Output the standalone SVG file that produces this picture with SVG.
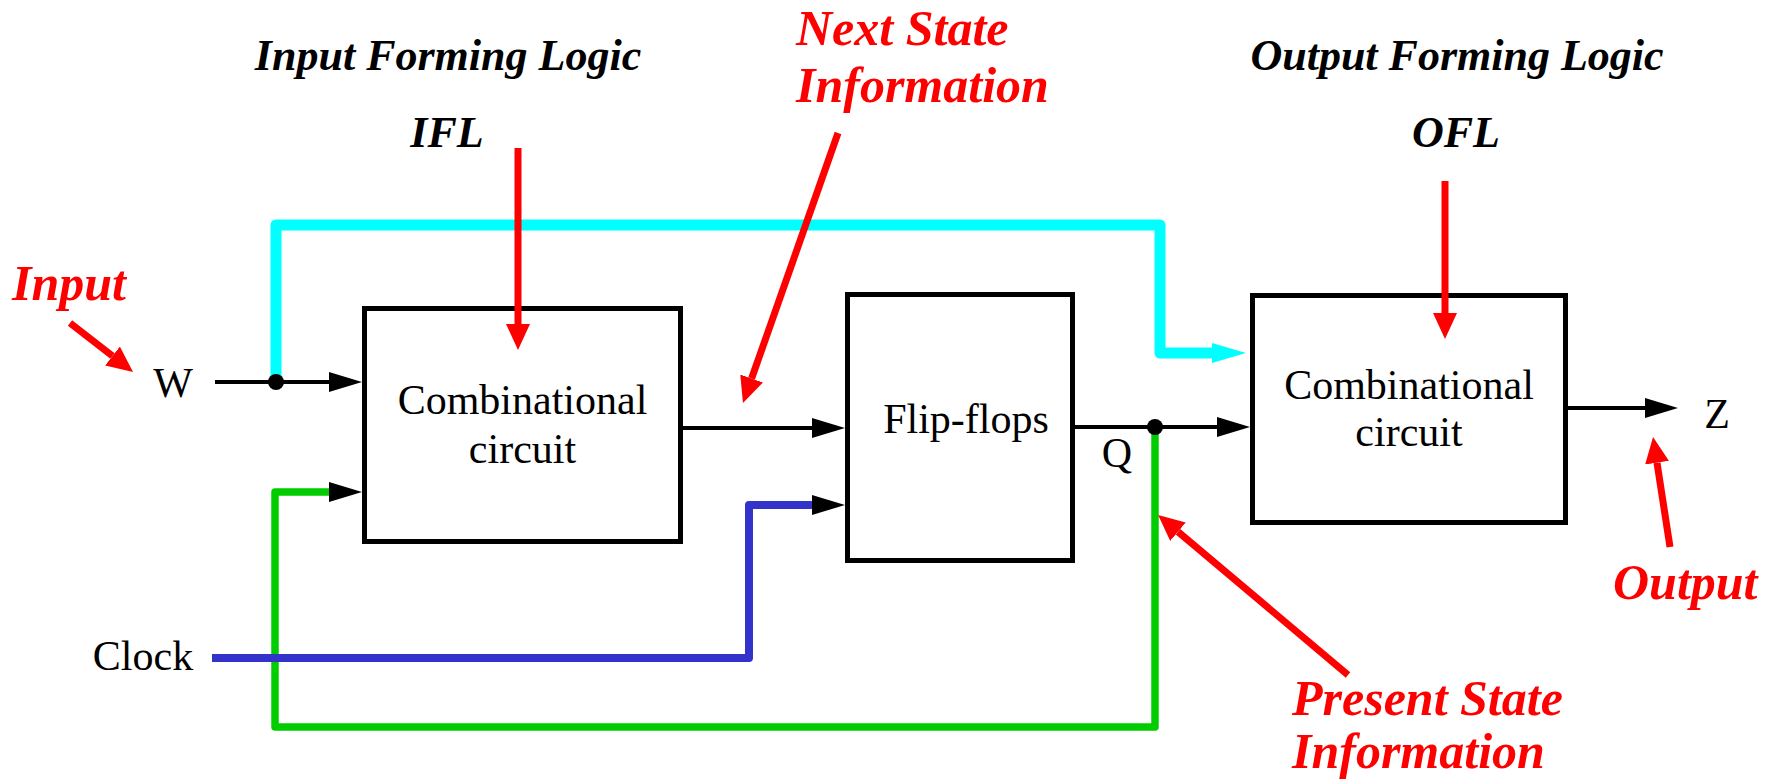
<svg xmlns="http://www.w3.org/2000/svg" width="1779" height="779" viewBox="0 0 1779 779">
  <style>
    .box { fill: #fff; stroke: #000; stroke-width: 5; }
    .txt { font-family: "Liberation Serif", "Times New Roman", serif; font-size: 42px; fill: #000; }
    .lbl { font-family: "Liberation Serif", "Times New Roman", serif; font-size: 44px; font-weight: bold; font-style: italic; fill: #000; }
    .rlbl { font-family: "Liberation Serif", "Times New Roman", serif; font-size: 50px; font-weight: bold; font-style: italic; fill: #ff0000; }
    .wire { fill: none; stroke: #000; stroke-width: 4; }
    .cyan { fill: none; stroke: #00ffff; stroke-width: 11; stroke-linejoin: round; }
    .green { fill: none; stroke: #00cc00; stroke-width: 7.5; stroke-linejoin: round; }
    .blue { fill: none; stroke: #3333cc; stroke-width: 8; stroke-linejoin: round; }
    .note { fill: none; stroke: #ff0000; stroke-width: 7; }
  </style>
  <defs>
    <marker id="ah" markerUnits="userSpaceOnUse" markerWidth="33" markerHeight="20" refX="0" refY="10" orient="auto">
      <path d="M0,0 L33,10 L0,20 Z" fill="#000"/>
    </marker>
    <marker id="ahc" markerUnits="userSpaceOnUse" markerWidth="34" markerHeight="20" refX="0" refY="10" orient="auto">
      <path d="M0,0 L34,10 L0,20 Z" fill="#00ffff"/>
    </marker>
    <marker id="ahr" markerUnits="userSpaceOnUse" markerWidth="26" markerHeight="24" refX="0" refY="12" orient="auto">
      <path d="M0,0 L26,12 L0,24 Z" fill="#ff0000"/>
    </marker>
  </defs>

  <!-- signal wiring -->
  <g id="connectors">
    <path class="cyan" d="M276,382 V225 H1160 V353 H1212" marker-end="url(#ahc)"/>
    <path class="green" d="M1155,427 V727 H275 V492 H329" marker-end="url(#ah)"/>
    <path class="blue" d="M212,658 H749 V505 H812" marker-end="url(#ah)"/>
    <path class="wire" d="M215,382 H329" marker-end="url(#ah)"/>
    <path class="wire" d="M683,428 H812" marker-end="url(#ah)"/>
    <path class="wire" d="M1075,427 H1217" marker-end="url(#ah)"/>
    <path class="wire" d="M1568,408 H1645" marker-end="url(#ah)"/>
    <circle cx="276" cy="382" r="8" fill="#000"/>
    <circle cx="1155" cy="427" r="8" fill="#000"/>
  </g>

  <g id="ifl">
    <rect class="box" x="364.5" y="308.5" width="316" height="233"/>
    <text class="txt" x="522.5" y="414" text-anchor="middle">Combinational</text>
    <text class="txt" x="522.5" y="463" text-anchor="middle">circuit</text>
  </g>

  <g id="flipflops">
    <rect class="box" x="847.5" y="294.5" width="225" height="266"/>
    <text class="txt" x="966" y="433" text-anchor="middle">Flip-flops</text>
  </g>

  <g id="ofl">
    <rect class="box" x="1252.5" y="295.5" width="313" height="227"/>
    <text class="txt" x="1409" y="399" text-anchor="middle">Combinational</text>
    <text class="txt" x="1409" y="446" text-anchor="middle">circuit</text>
  </g>

  <g id="signals">
    <text class="txt" x="173" y="397" text-anchor="middle">W</text>
    <text class="txt" x="1117" y="467" text-anchor="middle">Q</text>
    <text class="txt" x="1717" y="428" text-anchor="middle">Z</text>
    <text class="txt" x="143" y="670" text-anchor="middle">Clock</text>
  </g>

  <!-- annotation pointers, drawn over the blocks -->
  <g id="pointers">
    <path class="note" d="M70,323 L112.5,356" marker-end="url(#ahr)"/>
    <path class="note" d="M518,148 V324" marker-end="url(#ahr)"/>
    <path class="note" d="M838,133 L751.6,378.5" marker-end="url(#ahr)"/>
    <path class="note" d="M1445,181 V313" marker-end="url(#ahr)"/>
    <path class="note" d="M1348,675 L1178,531.7" marker-end="url(#ahr)"/>
    <path class="note" d="M1670,547 L1657,462.7" marker-end="url(#ahr)"/>
  </g>

  <g id="labels">
    <text class="lbl" x="448" y="70" text-anchor="middle">Input Forming Logic</text>
    <text class="lbl" x="447" y="147" text-anchor="middle">IFL</text>
    <text class="lbl" x="1457" y="70" text-anchor="middle">Output Forming Logic</text>
    <text class="lbl" x="1456" y="147" text-anchor="middle">OFL</text>
    <text class="rlbl" x="12" y="300">Input</text>
    <text class="rlbl" x="796" y="45">Next State</text>
    <text class="rlbl" x="796" y="102">Information</text>
    <text class="rlbl" x="1292" y="715">Present State</text>
    <text class="rlbl" x="1292" y="768">Information</text>
    <text class="rlbl" x="1613" y="599">Output</text>
  </g>
</svg>
